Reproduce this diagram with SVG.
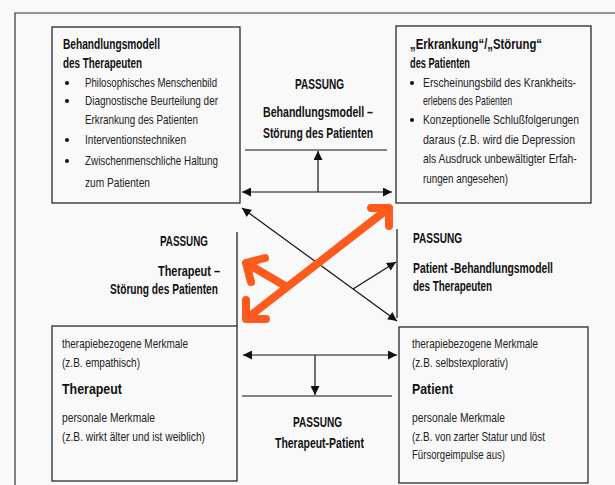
<svg xmlns="http://www.w3.org/2000/svg" width="615" height="485" viewBox="0 0 615 485">
<defs>
<style>
.bg{fill:#f9f9f9}
.box{fill:none;stroke:#2a2a2a;stroke-width:1.3}
.frame{fill:none;stroke:#333;stroke-width:1.2}
.ln{fill:none;stroke:#111;stroke-width:1.2}
.ar{fill:none;stroke:#111;stroke-width:1.2;marker-end:url(#ah)}
.ar2{fill:none;stroke:#111;stroke-width:1.2;marker-start:url(#ah);marker-end:url(#ah)}
.or{fill:none;stroke:#ff5a1e;stroke-width:8;stroke-linecap:round;stroke-linejoin:round}
text{font-family:"Liberation Sans",Arial,sans-serif;fill:#1a1a1a}
.b{font-size:13px;fill:#222}
.h{font-size:14.5px;font-weight:bold;fill:#111}
.m{font-size:14px;font-weight:bold;fill:#111}
.dot{fill:#111}
</style>
<marker id="ah" viewBox="0 0 10 10" refX="10" refY="5" markerWidth="10" markerHeight="9" markerUnits="userSpaceOnUse" orient="auto-start-reverse">
<path d="M0,0 L10,5 L0,10 z" fill="#111"/>
</marker>
</defs>
<rect class="bg" x="0" y="0" width="615" height="485"/>
<path class="frame" d="M15,485 L15,13 L615,13"/>

<g id="node-behandlungsmodell">
<rect class="box" x="52" y="27" width="188" height="176"/>
<text class="h" x="63" y="49" textLength="97" lengthAdjust="spacingAndGlyphs">Behandlungsmodell</text>
<text class="h" x="63" y="68" textLength="79" lengthAdjust="spacingAndGlyphs">des Therapeuten</text>
<circle class="dot" cx="67" cy="83" r="2"/>
<text class="b" x="85" y="87" textLength="132" lengthAdjust="spacingAndGlyphs">Philosophisches Menschenbild</text>
<circle class="dot" cx="67" cy="101" r="2"/>
<text class="b" x="85" y="105" textLength="133" lengthAdjust="spacingAndGlyphs">Diagnostische Beurteilung der</text>
<text class="b" x="85" y="124" textLength="113" lengthAdjust="spacingAndGlyphs">Erkrankung des Patienten</text>
<circle class="dot" cx="67" cy="140" r="2"/>
<text class="b" x="85" y="144" textLength="101" lengthAdjust="spacingAndGlyphs">Interventionstechniken</text>
<circle class="dot" cx="67" cy="161" r="2"/>
<text class="b" x="85" y="165" textLength="133" lengthAdjust="spacingAndGlyphs">Zwischenmenschliche Haltung</text>
<text class="b" x="85" y="187" textLength="65" lengthAdjust="spacingAndGlyphs">zum Patienten</text>
</g>

<g id="node-erkrankung">
<rect class="box" x="396" y="26" width="195" height="177"/>
<text class="h" x="410" y="49" textLength="132" lengthAdjust="spacingAndGlyphs">„Erkrankung“/„Störung“</text>
<text class="h" x="410" y="68" textLength="60" lengthAdjust="spacingAndGlyphs">des Patienten</text>
<circle class="dot" cx="412" cy="83" r="2"/>
<text class="b" x="423" y="87" textLength="153" lengthAdjust="spacingAndGlyphs">Erscheinungsbild des Krankheits-</text>
<text class="b" x="423" y="105" textLength="89" lengthAdjust="spacingAndGlyphs">erlebens des Patienten</text>
<circle class="dot" cx="412" cy="120" r="2"/>
<text class="b" transform="translate(423,124) scale(0.75,1)" x="0" y="0" textLength="208" lengthAdjust="spacingAndGlyphs">Konzeptionelle Schlußfolgerungen</text>
<text class="b" x="423" y="144" textLength="152" lengthAdjust="spacingAndGlyphs">daraus (z.B. wird die Depression</text>
<text class="b" transform="translate(423,163) scale(0.75,1)" x="0" y="0" textLength="205" lengthAdjust="spacingAndGlyphs">als Ausdruck unbewältigter Erfah-</text>
<text class="b" x="423" y="183" textLength="85" lengthAdjust="spacingAndGlyphs">rungen angesehen)</text>
</g>

<g id="node-therapeut">
<rect class="box" x="52" y="326" width="185" height="155"/>
<text class="b" x="62" y="348" textLength="126" lengthAdjust="spacingAndGlyphs">therapiebezogene Merkmale</text>
<text class="b" x="62" y="367" textLength="78" lengthAdjust="spacingAndGlyphs">(z.B. empathisch)</text>
<text class="m" x="62" y="394" textLength="60" lengthAdjust="spacingAndGlyphs">Therapeut</text>
<text class="b" x="62" y="422" textLength="93" lengthAdjust="spacingAndGlyphs">personale Merkmale</text>
<text class="b" x="62" y="441" textLength="143" lengthAdjust="spacingAndGlyphs">(z.B. wirkt älter und ist weiblich)</text>
</g>

<g id="node-patient">
<rect class="box" x="399" y="327" width="189" height="156"/>
<text class="b" x="412" y="348" textLength="126" lengthAdjust="spacingAndGlyphs">therapiebezogene Merkmale</text>
<text class="b" x="412" y="367" textLength="96" lengthAdjust="spacingAndGlyphs">(z.B. selbstexplorativ)</text>
<text class="m" x="412" y="394" textLength="41" lengthAdjust="spacingAndGlyphs">Patient</text>
<text class="b" x="412" y="422" textLength="93" lengthAdjust="spacingAndGlyphs">personale Merkmale</text>
<text class="b" x="412" y="441" textLength="133" lengthAdjust="spacingAndGlyphs">(z.B. von zarter Statur und löst</text>
<text class="b" x="412" y="459" textLength="93" lengthAdjust="spacingAndGlyphs">Fürsorgeimpulse aus)</text>
</g>

<g id="label-top">
<text class="m" x="295" y="89" textLength="49" lengthAdjust="spacingAndGlyphs">PASSUNG</text>
<text class="m" x="263" y="117" textLength="110" lengthAdjust="spacingAndGlyphs">Behandlungsmodell –</text>
<text class="m" x="263" y="138" textLength="110" lengthAdjust="spacingAndGlyphs">Störung des Patienten</text>
</g>
<g id="label-left">
<text class="m" x="160" y="246" textLength="48" lengthAdjust="spacingAndGlyphs">PASSUNG</text>
<text class="m" x="158" y="276" textLength="62" lengthAdjust="spacingAndGlyphs">Therapeut –</text>
<text class="m" x="110" y="294" textLength="108" lengthAdjust="spacingAndGlyphs">Störung des Patienten</text>
</g>
<g id="label-right">
<text class="m" x="413" y="243" textLength="49" lengthAdjust="spacingAndGlyphs">PASSUNG</text>
<text class="m" x="413" y="273" textLength="140" lengthAdjust="spacingAndGlyphs">Patient -Behandlungsmodell</text>
<text class="m" x="413" y="291" textLength="79" lengthAdjust="spacingAndGlyphs">des Therapeuten</text>
</g>
<g id="label-bottom">
<text class="m" x="293" y="427" textLength="49" lengthAdjust="spacingAndGlyphs">PASSUNG</text>
<text class="m" x="275" y="448" textLength="89" lengthAdjust="spacingAndGlyphs">Therapeut-Patient</text>
</g>

<g id="connectors">
<line class="ln" x1="245" y1="150" x2="387" y2="150"/>
<line class="ar" x1="318" y1="192" x2="318" y2="151"/>
<line class="ar2" x1="242" y1="192" x2="392" y2="192"/>
<line class="ln" x1="237" y1="232" x2="237" y2="326"/>
<line class="ln" x1="397" y1="229" x2="397" y2="318"/>
<line class="ar2" x1="242" y1="208" x2="397" y2="321"/>
<line class="ar" x1="353" y1="289" x2="396" y2="262"/>
<line class="ar2" x1="243" y1="355" x2="397" y2="355"/>
<line class="ar" x1="315" y1="355" x2="315" y2="395"/>
<line class="ln" x1="242" y1="396" x2="392" y2="396"/>
<path class="or" d="M246,319 L389,208 M371,208 L389,208 L389,226 M246,300 L246,319 L266,319 M287,287 L246,263 M265,258 L246,263 L251,282"/>
</g>
</svg>
